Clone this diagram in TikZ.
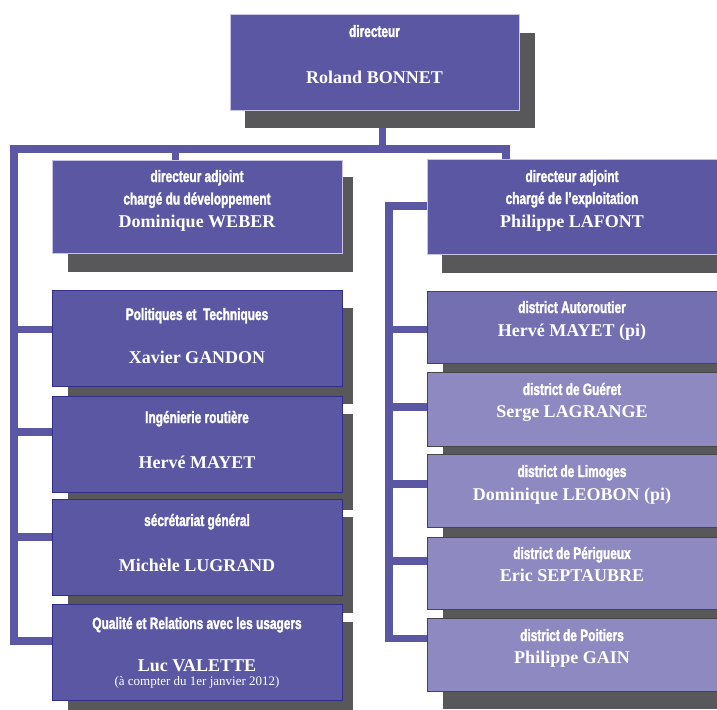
\documentclass[tikz,border=0pt]{standalone}
\usepackage{fontspec}
\setmainfont{Liberation Serif}
\newfontfamily\hdfont[FakeStretch=0.72, BoldFeatures={FakeStretch=0.72, FakeBold=1.8}]{Liberation Sans}
\usetikzlibrary{calc,backgrounds}
\definecolor{boxc}{RGB}{91,87,163}
\definecolor{autoc}{RGB}{116,111,177}
\definecolor{distc}{RGB}{142,137,192}
\definecolor{shadowc}{RGB}{88,88,90}
\definecolor{topedge}{RGB}{200,196,232}
\definecolor{leftedge}{RGB}{50,46,140}
\definecolor{distedge}{RGB}{70,70,74}
\definecolor{busc}{RGB}{91,87,163}
\tikzset{
  box/.style={anchor=north west, inner sep=0pt, outer sep=0pt, line width=1pt, minimum width=290pt},
  topbox/.style={box, fill=boxc, draw=topedge},
  leftbox/.style={box, fill=boxc, draw=leftedge, minimum height=96pt},
  distbox/.style={box, fill=distc, draw=distedge},
  hd/.style={anchor=base, text=white, inner sep=0pt, font=\hdfont\bfseries\fontsize{16.5}{22.5}\selectfont, align=center},
  nm/.style={anchor=base, text=white, inner sep=0pt, font=\bfseries\fontsize{18}{20}\selectfont},
  sub/.style={anchor=base, text=white, inner sep=0pt, font=\fontsize{13}{15}\selectfont},
  bus/.style={draw=busc, line width=7.5pt, line join=miter},
  shade/.style={fill=shadowc}
}
\begin{document}
\begin{tikzpicture}[x=1pt,y=-1pt]
\clip (0,0) rectangle (717,709);
\useasboundingbox (0,0) rectangle (717,709);
% boxes
\node[topbox, minimum width=289pt, minimum height=95pt] (dir) at (230,15) {};
\node[topbox, minimum height=93pt] (adjL) at (52,160) {};
\node[topbox, minimum height=95pt] (adjR) at (427,159) {};
\node[leftbox] (pol) at (52,290) {};
\node[leftbox] (ing) at (52,396) {};
\node[leftbox] (sec) at (52,499) {};
\node[leftbox] (qual) at (52,604) {};
\node[distbox, fill=autoc, minimum height=72pt] (auto) at (427,291) {};
\node[distbox, minimum height=74pt] (gue) at (427,372) {};
\node[distbox, minimum height=73pt] (lim) at (427,454) {};
\node[distbox, minimum height=72pt] (per) at (427,537) {};
\node[distbox, minimum height=73pt] (poi) at (427,618) {};

\begin{scope}[on background layer]
  % connectors
  \coordinate (tl) at (14,149);
  \coordinate (tj) at (382.5,149);
  \draw[bus] ($(qual.north west)+(0,37)$) -| (tl) -| ($(adjR.north west)+(79,0)$);
  \draw[bus] ($(dir.south west)+(152.5,0)$) -- (tj);
  \draw[bus] ($(adjL.north west)+(123.5,-11)$) -- ($(adjL.north west)+(123.5,0)$);
  \foreach \b/\d in {pol/39.5, ing/36, sec/38}
    \draw[bus] ($(\b.north west)+(-38,\d)$) -- ($(\b.north west)+(0,\d)$);
  \draw[bus] ($(adjR.north west)+(0,47)$) -| ($(poi.north west)+(-38,20.5)$) -- ($(poi.north west)+(0,20.5)$);
  \foreach \b/\d in {auto/38.5, gue/35, lim/30, per/24}
    \draw[bus] ($(\b.north west)+(-38,\d)$) -- ($(\b.north west)+(0,\d)$);
  % shadows
  \fill[shade] ($(dir.north west)+(15,18)$) rectangle ($(dir.south east)+(16,18)$);
  \fill[shade] ($(adjL.north west)+(16,17)$) rectangle ($(adjL.south east)+(11,19)$);
  \fill[shade] ($(adjR.north west)+(15,18)$) rectangle ($(adjR.south east)+(20,19)$);
  \foreach \b in {pol,ing,sec,qual}
    \fill[shade] ($(\b.north west)+(16,18)$) rectangle ($(\b.south east)+(11,18)$);
  \foreach \b in {auto,gue,lim,per,poi}
    \fill[shade] ($(\b.north west)+(16,18)$) rectangle ($(\b.south east)+(20,18)$);
\end{scope}

% texts
\node[hd] (dirH) at ($(dir.north)+(0,22)$) {directeur};
\node[nm] (dirN) at ($(dir.north)+(0,69)$) {Roland BONNET};

\node[hd] (adjLH1) at ($(adjL.north)+(0,22)$) {directeur adjoint};
\node[hd] (adjLH2) at ($(adjL.north)+(0,44.5)$) {chargé du développement};
\node[nm] (adjLN) at ($(adjL.north)+(0,67)$) {Dominique WEBER};

\node[hd] (adjRH1) at ($(adjR.north)+(0,23)$) {directeur adjoint};
\node[hd] (adjRH2) at ($(adjR.north)+(0,45)$) {chargé de l’exploitation};
\node[nm] (adjRN) at ($(adjR.north)+(0,68)$) {Philippe LAFONT};

\node[hd] (polH) at ($(pol.north)+(0,30)$) {Politiques et\ \ Techniques};
\node[nm] (polN) at ($(pol.north)+(0,73)$) {Xavier GANDON};
\node[hd] (ingH) at ($(ing.north)+(0,27)$) {Ingénierie routière};
\node[nm] (ingN) at ($(ing.north)+(0,72)$) {Hervé MAYET};
\node[hd] (secH) at ($(sec.north)+(0,27)$) {sécrétariat général};
\node[nm] (secN) at ($(sec.north)+(0,72)$) {Michèle LUGRAND};
\node[hd] (qualH) at ($(qual.north)+(0,25)$) {Qualité et Relations avec les usagers};
\node[nm] (qualN) at ($(qual.north)+(0,67)$) {Luc VALETTE};
\node[sub] (qualS) at ($(qual.north)+(0,81)$) {(à compter du 1er janvier 2012)};

\node[hd] (autoH) at ($(auto.north)+(0,22)$) {district Autoroutier};
\node[nm] (autoN) at ($(auto.north)+(0,45)$) {Hervé MAYET (pi)};
\node[hd] (gueH) at ($(gue.north)+(0,23)$) {district de Guéret};
\node[nm] (gueN) at ($(gue.north)+(0,45)$) {Serge LAGRANGE};
\node[hd] (limH) at ($(lim.north)+(0,23)$) {district de Limoges};
\node[nm] (limN) at ($(lim.north)+(0,46)$) {Dominique LEOBON (pi)};
\node[hd] (perH) at ($(per.north)+(0,22)$) {district de Périgueux};
\node[nm] (perN) at ($(per.north)+(0,44)$) {Eric SEPTAUBRE};
\node[hd] (poiH) at ($(poi.north)+(0,23)$) {district de Poitiers};
\node[nm] (poiN) at ($(poi.north)+(0,45)$) {Philippe GAIN};
\end{tikzpicture}
\end{document}
